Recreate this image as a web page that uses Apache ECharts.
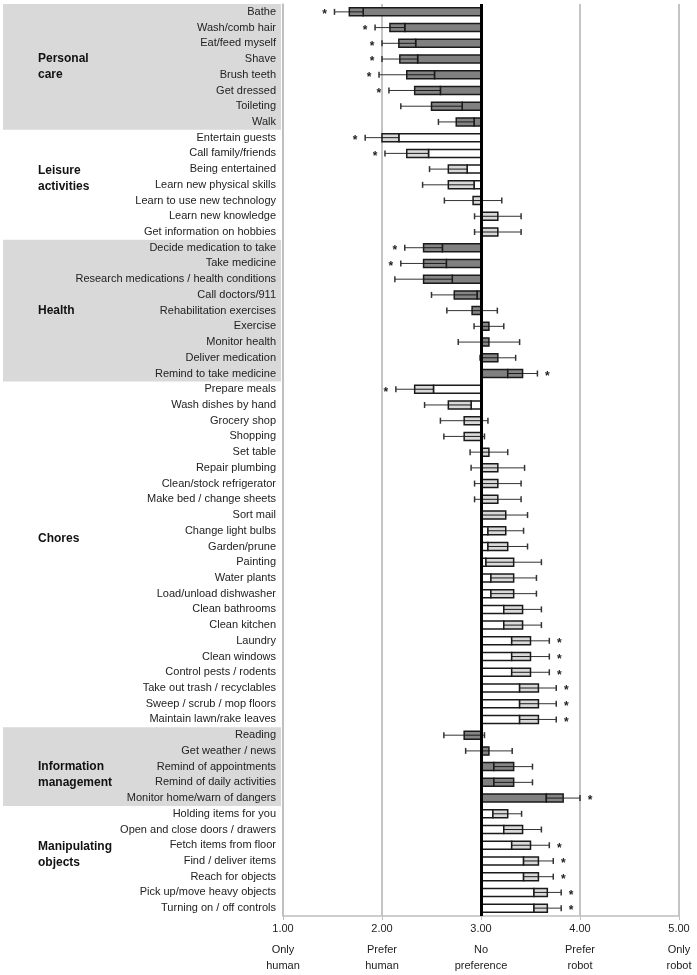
<!DOCTYPE html>
<html><head><meta charset="utf-8">
<script src="https://cdn.jsdelivr.net/npm/echarts@6/dist/echarts.min.js"></script>
<style>html,body{margin:0;padding:0;background:#fff}#c{width:697px;height:975px}</style>
</head><body><div id="c"></div>
<script>
const categories = ['Bathe','Wash/comb hair','Eat/feed myself','Shave','Brush teeth','Get dressed','Toileting','Walk',
'Entertain guests','Call family/friends','Being entertained','Learn new physical skills','Learn to use new technology','Learn new knowledge','Get information on hobbies',
'Decide medication to take','Take medicine','Research medications / health conditions','Call doctors/911','Rehabilitation exercises','Exercise','Monitor health','Deliver medication','Remind to take medicine',
'Prepare meals','Wash dishes by hand','Grocery shop','Shopping','Set table','Repair plumbing','Clean/stock refrigerator','Make bed / change sheets','Sort mail','Change light bulbs','Garden/prune','Painting','Water plants','Load/unload dishwasher','Clean bathrooms','Clean kitchen','Laundry','Clean windows','Control pests / rodents','Take out trash / recyclables','Sweep / scrub / mop floors','Maintain lawn/rake leaves',
'Reading','Get weather / news','Remind of appointments','Remind of daily activities','Monitor home/warn of dangers',
'Holding items for you','Open and close doors / drawers','Fetch items from floor','Find / deliver items','Reach for objects','Pick up/move heavy objects','Turning on / off controls'];
const means = [1.67,2.08,2.17,2.18,2.25,2.33,2.50,2.75,
2.00,2.25,2.67,2.67,2.92,3.17,3.17,
2.42,2.42,2.42,2.73,2.91,3.08,3.08,3.17,3.42,
2.33,2.67,2.83,2.83,3.08,3.17,3.17,3.17,3.25,3.25,3.27,3.33,3.33,3.33,3.42,3.42,3.50,3.50,3.50,3.58,3.58,3.58,
2.83,3.08,3.33,3.33,3.83,
3.27,3.42,3.50,3.58,3.58,3.67,3.67];
const splits = [1.81,2.23,2.34,2.36,2.53,2.59,2.81,2.93,
2.17,2.47,2.86,2.93,3.00,3.00,3.00,
2.61,2.65,2.71,2.96,3.00,3.00,3.00,3.00,3.27,
2.52,2.90,3.00,3.00,3.00,3.00,3.00,3.00,3.00,3.07,3.07,3.05,3.10,3.10,3.23,3.23,3.31,3.31,3.31,3.39,3.39,3.39,
3.00,3.00,3.13,3.13,3.66,
3.12,3.23,3.31,3.43,3.43,3.535,3.535];
const errors = [0.15,0.15,0.17,0.18,0.28,0.26,0.31,0.18,
0.17,0.22,0.19,0.26,0.29,0.235,0.235,
0.19,0.23,0.29,0.23,0.255,0.15,0.31,0.18,0.15,
0.19,0.24,0.24,0.205,0.19,0.27,0.235,0.235,0.22,0.18,0.20,0.28,0.23,0.23,0.19,0.19,0.19,0.19,0.19,0.18,0.18,0.18,
0.205,0.235,0.19,0.19,0.17,
0.14,0.19,0.19,0.15,0.15,0.14,0.14];
const significant = [1,1,1,1,1,1,0,0,
1,1,0,0,0,0,0,
1,1,0,0,0,0,0,0,1,
1,0,0,0,0,0,0,0,0,0,0,0,0,0,0,0,1,1,1,1,1,1,
0,0,0,0,1,
0,0,1,1,1,1,1];
const groupNames = ['Personal\ncare','Leisure\nactivities','Health','Chores','Information\nmanagement','Manipulating\nobjects'];
const groupStart = [0,8,15,24,46,51];
const groupEnd = [7,14,23,45,50,57];
const groupShaded = [1,0,1,0,1,0];
const groupLabelRow = [3.5,10.6,19,33.5,48.5,53.6];
const tickLabels = {1:'1.00',2:'2.00',3:'3.00',4:'4.00',5:'5.00'};
const scaleLabels = {1:'Only\nhuman',2:'Prefer\nhuman',3:'No\npreference',4:'Prefer\nrobot',5:'Only\nrobot'};

const FONT = '"Liberation Sans", Arial, sans-serif';
const rowShaded = categories.map((c,i)=>{
  for (let g=0; g<groupStart.length; g++) if (i>=groupStart[g] && i<=groupEnd[g]) return groupShaded[g];
  return 0;
});

const barData = categories.map((c,i)=>[i, means[i], splits[i], errors[i], significant[i], rowShaded[i]]);
const bandData = groupStart.map((s,g)=>[3, s, groupEnd[g], groupShaded[g], g]);

const chart = echarts.init(document.getElementById('c'), null, {renderer:'canvas'});
const BAR_H = 8;
chart.setOption({
  animation:false,
  backgroundColor:'#fff',
  grid:{left:283, right:18, top:4, bottom:59, containLabel:false},
  xAxis:{type:'value', min:1, max:5, interval:1,
    axisLine:{show:true, lineStyle:{color:'#bfbfbf', width:1.5}},
    axisTick:{show:true, length:4, lineStyle:{color:'#bfbfbf'}},
    splitLine:{show:true, lineStyle:{color:'#c4c4c4', width:2}},
    axisLabel:{margin:0, color:'#222', fontFamily:FONT, fontSize:11,
      formatter:v=>{
        const lines = scaleLabels[v].split('\n');
        return '{v|'+tickLabels[v]+'}\n{d|'+lines[0]+'}\n{d|'+lines[1]+'}';
      },
      rich:{v:{fontSize:11, lineHeight:26, fontFamily:FONT, color:'#222'}, d:{fontSize:11, lineHeight:16, fontFamily:FONT, color:'#222'}}
    }
  },
  yAxis:{type:'category', inverse:true, data:categories,
    axisLine:{show:true, lineStyle:{color:'#bfbfbf', width:1.5}},
    axisTick:{show:false},
    axisLabel:{margin:7, color:'#222', fontFamily:FONT, fontSize:11, interval:0}
  },
  series:[
    {type:'custom', name:'bands', z:-1, clip:false, silent:true,
      data:bandData, encode:{x:0, y:[1,2]},
      renderItem:(params, api)=>{
        const s = api.value(1), e = api.value(2), shaded = api.value(3), g = api.value(4);
        const bw = api.size([0,1])[1];
        const yTop = api.coord([1,s])[1] - bw/2;
        const yBot = api.coord([1,e])[1] + bw/2;
        const gridLeft = api.coord([1,s])[0];
        const children = [];
        if (shaded) children.push({type:'rect', shape:{x:3, y:yTop, width:gridLeft-5, height:yBot-yTop}, style:{fill:'#d9d9d9'}});
        const yl = api.coord([1,0])[1] + groupLabelRow[g]*bw;
        children.push({type:'text', style:{text:groupNames[g], x:38, y:yl, align:'left', verticalAlign:'middle', font:'bold 12px '+FONT, fill:'#111', lineHeight:16}});
        return {type:'group', children};
      }
    },
    {type:'custom', name:'errors', z:2, clip:false, silent:true,
      data:barData, encode:{x:[1], y:0},
      renderItem:(params, api)=>{
        const row = api.value(0), m = api.value(1), e = api.value(3), sig = api.value(4);
        const pl = api.coord([m-e,row]), pr = api.coord([m+e,row]);
        const y = pl[1];
        const ch = [
          {type:'line', shape:{x1:pl[0], y1:y, x2:pr[0], y2:y}, style:{stroke:'#333', lineWidth:1}},
          {type:'line', shape:{x1:pl[0], y1:y-3, x2:pl[0], y2:y+3}, style:{stroke:'#333', lineWidth:1.5}},
          {type:'line', shape:{x1:pr[0], y1:y-3, x2:pr[0], y2:y+3}, style:{stroke:'#333', lineWidth:1.5}}
        ];
        if (sig) {
          const x = m < 3 ? pl[0]-10 : pr[0]+10;
          ch.push({type:'text', style:{text:'*', x:x, y:y+3, align:'center', verticalAlign:'middle', font:'bold 12px '+FONT, fill:'#222'}});
        }
        return {type:'group', children:ch};
      }
    },
    {type:'custom', name:'bars', z:3, clip:false, silent:true,
      data:barData, encode:{x:[1,2], y:0},
      renderItem:(params, api)=>{
        const row = api.value(0), m = api.value(1), d = api.value(2), shaded = api.value(5);
        const p3 = api.coord([3,row]), pd = api.coord([d,row]), pm = api.coord([m,row]);
        const y = p3[1];
        const fill1 = shaded ? '#808080' : '#ffffff';
        const fill2 = shaded ? '#858585' : '#d9d9d9';
        const ch = [];
        if (Math.abs(pd[0]-p3[0]) > 0.5) ch.push({type:'rect', shape:{x:Math.min(p3[0],pd[0]), y:y-BAR_H/2, width:Math.abs(pd[0]-p3[0]), height:BAR_H}, style:{fill:fill1, stroke:'#1a1a1a', lineWidth:1.5}});
        ch.push({type:'rect', shape:{x:Math.min(pd[0],pm[0]), y:y-BAR_H/2, width:Math.abs(pm[0]-pd[0]), height:BAR_H}, style:{fill:fill2, stroke:'#1a1a1a', lineWidth:1.5}});
        ch.push({type:'line', shape:{x1:Math.min(pd[0],pm[0]), y1:y, x2:Math.max(pd[0],pm[0]), y2:y}, style:{stroke:'#1a1a1a', lineWidth:1}});
        return {type:'group', children:ch};
      },
      markLine:{silent:true, symbol:'none', label:{show:false}, z:5,
        lineStyle:{color:'#000', width:3, type:'solid'}, data:[{xAxis:3}]}
    }
  ]
});
</script></body></html>
